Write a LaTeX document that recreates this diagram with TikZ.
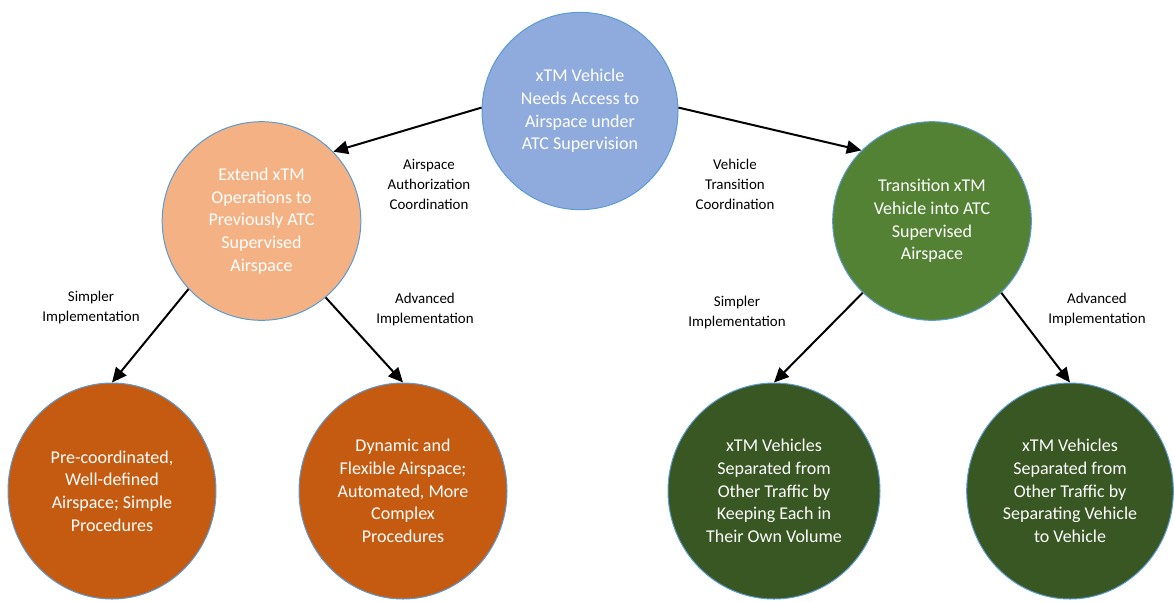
\documentclass[tikz,border=0pt]{standalone}
\usepackage{fontspec}
\setmainfont{Carlito}
\usetikzlibrary{arrows.meta,shapes.geometric}
\definecolor{topblue}{HTML}{8FAADC}
\definecolor{lightorange}{HTML}{F4B183}
\definecolor{midgreen}{HTML}{548235}
\definecolor{darkorange}{HTML}{C55A11}
\definecolor{darkgreen}{HTML}{385723}
\definecolor{edgeblue}{HTML}{5B9BD5}
\begin{document}
\begin{tikzpicture}[x=0.75pt,y=-0.75pt,
  bub/.style={ellipse, draw=edgeblue, line width=0.75pt, text=white, align=center,
    inner sep=0pt, font=\fontsize{13.5}{17}\selectfont},
  lab/.style={align=center, font=\fontsize{11.2}{15}\selectfont, text=black},
  arr/.style={-{Triangle[length=11pt,width=10pt]}, line width=1.5pt}]
\useasboundingbox (0,0) rectangle (1174,601);

\node[bub, fill=topblue, minimum width=147pt, minimum height=148pt] (top) at (580,111)
  {xTM Vehicle\\Needs Access to\\Airspace under\\ATC Supervision};
\node[bub, fill=lightorange, minimum width=149pt, minimum height=149pt] (lm) at (261.5,221)
  {Extend xTM\\Operations to\\Previously ATC\\Supervised\\Airspace};
\node[bub, fill=midgreen, minimum width=149pt, minimum height=149pt] (rm) at (932,221)
  {Transition xTM\\Vehicle into ATC\\Supervised\\Airspace};
\node[bub, fill=darkorange, minimum width=156pt, minimum height=162pt] (lb1) at (112,491)
  {Pre-coordinated,\\Well-defined\\Airspace; Simple\\Procedures};
\node[bub, fill=darkorange, minimum width=156pt, minimum height=162pt] (lb2) at (403,491)
  {Dynamic and\\Flexible Airspace;\\Automated, More\\Complex\\Procedures};
\node[bub, fill=darkgreen, minimum width=159pt, minimum height=162pt] (rb1) at (774,491)
  {xTM Vehicles\\Separated from\\Other Traffic by\\Keeping Each in\\Their Own Volume};
\node[bub, fill=darkgreen, minimum width=155pt, minimum height=162pt] (rb2) at (1070,491)
  {xTM Vehicles\\Separated from\\Other Traffic by\\Separating Vehicle\\to Vehicle};

\node[lab] (l1) at (429,184) {Airspace\\Authorization\\Coordination};
\node[lab] (l2) at (735,184) {Vehicle\\Transition\\Coordination};
\node[lab] (l3) at (91,308) {Simpler\\Implementation};
\node[lab] (l4) at (425,310) {Advanced\\Implementation};
\node[lab] (l5) at (737,313) {Simpler\\Implementation};
\node[lab] (l6) at (1097,310) {Advanced\\Implementation};

\draw[arr] (top.178) -- (lm.44);
\draw[arr] (top.2) -- (rm.135);
\draw[arr] (lm.223) -- (lb1.90);
\draw[arr] (lm.310) -- (lb2.90);
\draw[arr] (rm.226) -- (rb1.90);
\draw[arr] (rm.314) -- (rb2.90);
\end{tikzpicture}
\end{document}
